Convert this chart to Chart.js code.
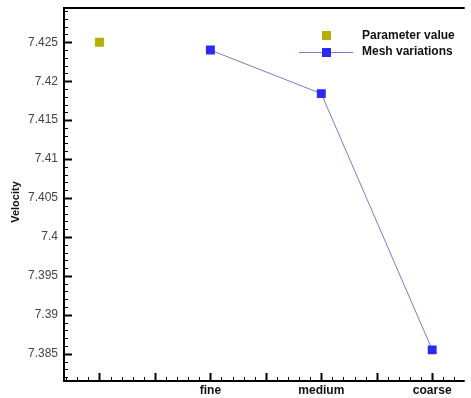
<!DOCTYPE html>
<html>
<head>
<meta charset="utf-8">
<script src="https://cdn.jsdelivr.net/npm/chart.js@4"></script>
<style>
  html, body { margin: 0; padding: 0; background: #fff; }
  #wrap { width: 471px; height: 398px; }
</style>
</head>
<body>
<div id="wrap"><canvas id="chart" width="471" height="398"></canvas></div>
<script>
// data
const paramX = [1];
const paramY = [7.425];
const meshX = [3, 5, 7];
const meshY = [7.424, 7.4184, 7.3855];
const meshLabels = { 3: 'fine', 5: 'medium', 7: 'coarse' };
const yTicks = [7.385, 7.39, 7.395, 7.4, 7.405, 7.41, 7.415, 7.42, 7.425];
const xTicks = [1, 2, 3, 4, 5, 6, 7];

const yMin = 7.3815, yMax = 7.4294;
const xMin = 0.36, xMax = 7.586;

// axis frame, inward ticks, legend and y title
const framePlugin = {
  id: 'frame',
  afterDraw(chart) {
    const c = chart.ctx;
    const a = chart.chartArea;
    const xs = chart.scales.x, ys = chart.scales.y;
    c.save();
    c.strokeStyle = '#000';
    c.lineWidth = 2;
    c.beginPath();
    c.moveTo(a.right, a.top);
    c.lineTo(a.left, a.top);
    c.lineTo(a.left, a.bottom);
    c.lineTo(a.right, a.bottom);
    c.stroke();

    // y ticks
    c.lineWidth = 1;
    for (let i = 0; ; i++) {
      const v = 7.38 + i * 0.001;
      if (v > yMax) break;
      if (v < yMin) continue;
      const py = Math.round(ys.getPixelForValue(v)) + 0.5;
      const major = Math.abs(v * 1000 % 5) < 0.01 || Math.abs(v * 1000 % 5 - 5) < 0.01;
      c.lineWidth = major ? 2 : 1;
      c.beginPath();
      c.moveTo(a.left, py);
      c.lineTo(a.left + (major ? 8 : 4), py);
      c.stroke();
    }
    // x ticks
    for (let i = 0; ; i++) {
      const v = 0.4 + i * 0.2;
      if (v > xMax) break;
      const px = Math.round(xs.getPixelForValue(v)) + 0.5;
      const major = Math.abs(v - Math.round(v)) < 0.01;
      c.lineWidth = major ? 2 : 1;
      c.beginPath();
      c.moveTo(px, a.bottom);
      c.lineTo(px, a.bottom - (major ? 8 : 4));
      c.stroke();
    }

    // legend
    c.fillStyle = '#b5b000';
    c.fillRect(322, 31, 9, 9);
    c.strokeStyle = '#7a7ac8';
    c.lineWidth = 1;
    c.beginPath();
    c.moveTo(299, 52.5);
    c.lineTo(353, 52.5);
    c.stroke();
    c.fillStyle = '#2a2af5';
    c.fillRect(322, 48, 9, 9);
    c.fillStyle = '#111';
    c.font = 'bold 12px "Liberation Sans", Arial, sans-serif';
    c.textAlign = 'left';
    c.textBaseline = 'middle';
    c.fillText('Parameter value', 362, 36);
    c.fillText('Mesh variations', 362, 52);

    // y title
    c.translate(16, 202);
    c.rotate(-Math.PI / 2);
    c.textAlign = 'center';
    c.font = 'bold 11px "Liberation Sans", Arial, sans-serif';
    c.fillText('Velocity', 0, 0);
    c.restore();
  }
};

const ctx = document.getElementById('chart').getContext('2d');
const chart = new Chart(ctx, {
  type: 'scatter',
  data: {
    datasets: [
      {
        label: 'Parameter value',
        data: paramX.map((x, i) => ({ x: x, y: paramY[i] })),
        pointStyle: 'rect',
        pointRadius: 6.3,
        backgroundColor: '#b5b000',
        borderColor: '#b5b000',
        borderWidth: 0,
        showLine: false
      },
      {
        label: 'Mesh variations',
        data: meshX.map((x, i) => ({ x: x, y: meshY[i] })),
        pointStyle: 'rect',
        pointRadius: 6.3,
        pointBackgroundColor: '#2a2af5',
        pointBorderWidth: 0,
        borderColor: '#7a7ac8',
        borderWidth: 1,
        showLine: true
      }
    ]
  },
  options: {
    responsive: false,
    animation: false,
    layout: { padding: { top: 8, right: 0, left: 0, bottom: 0 } },
    plugins: {
      legend: { display: false },
      tooltip: { enabled: false }
    },
    scales: {
      x: {
        type: 'linear',
        min: xMin,
        max: xMax,
        border: { display: false },
        grid: { display: false, drawTicks: false },
        afterBuildTicks: s => { s.ticks = xTicks.map(v => ({ value: v })); },
        afterFit: s => { s.height = 17; s.paddingLeft = 0; s.paddingRight = 0; },
        ticks: {
          autoSkip: false,
          maxRotation: 0,
          padding: 2,
          color: '#111',
          font: { family: '"Liberation Sans", Arial, sans-serif', size: 12, weight: 'bold' },
          callback: v => meshLabels[v] || ''
        }
      },
      y: {
        type: 'linear',
        min: yMin,
        max: yMax,
        border: { display: false },
        grid: { display: false, drawTicks: false },
        afterBuildTicks: s => { s.ticks = yTicks.map(v => ({ value: v })); },
        afterFit: s => { s.width = 64; s.paddingTop = 0; s.paddingBottom = 0; },
        ticks: {
          autoSkip: false,
          padding: 6,
          color: '#444',
          font: { family: '"Liberation Sans", Arial, sans-serif', size: 12 },
          callback: v => String(parseFloat(v.toFixed(3)))
        }
      }
    }
  },
  plugins: [framePlugin]
});
</script>
</body>
</html>
